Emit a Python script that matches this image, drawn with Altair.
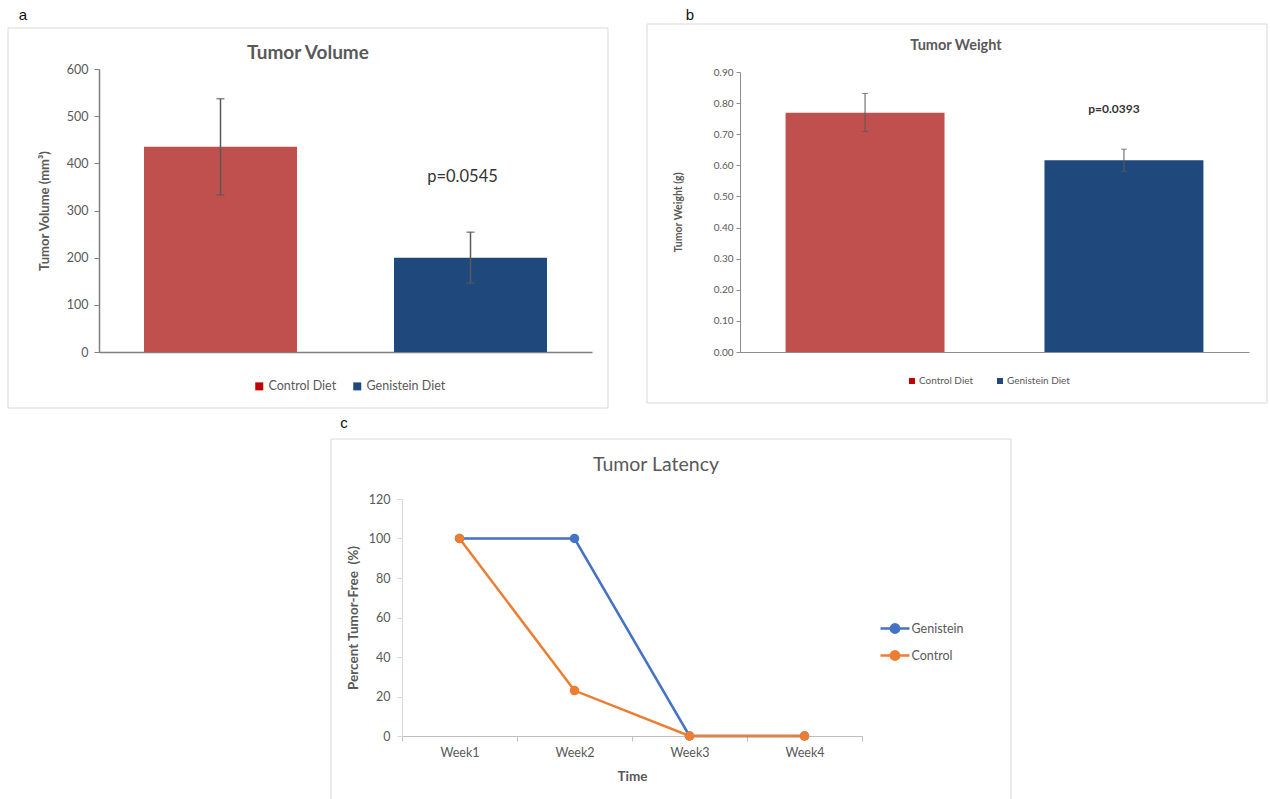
import altair as alt
import pandas as pd

# ---------------- data ----------------
diets = ["Control Diet", "Genistein Diet"]

volume_mean = [435, 200]
volume_low = [333, 146]
volume_high = [537, 254]
volume_ticks = [0, 100, 200, 300, 400, 500, 600]
volume_p = "p=0.0545"
volume_p_at = 370

weight_mean = [0.769, 0.616]
weight_low = [0.709, 0.581]
weight_high = [0.831, 0.652]
weight_ticks = [0.0, 0.1, 0.2, 0.3, 0.4, 0.5, 0.6, 0.7, 0.8, 0.9]
weight_p = "p=0.0393"
weight_p_at = 0.78

weeks = ["Week1", "Week2", "Week3", "Week4"]
groups = ["Genistein", "Control"]
genistein_free = [100, 100, 0, 0]
control_free = [100, 23, 0, 0]
latency_ticks = [0, 20, 40, 60, 80, 100, 120]

# ---------------- styling ----------------
bar_colors = ["#C0504D", "#1F497D"]
key_colors = ["#C00000", "#1F497D"]
line_colors = ["#4472C4", "#ED7D31"]

FONT = "Lato"
INK = "#595959"
FRAME = "#D9D9D9"

one = pd.DataFrame({"k": [0]})


def frame(x1, y1, x2, y2):
    return alt.Chart(one).mark_rect(filled=False, stroke=FRAME, strokeWidth=1).encode(
        x=alt.value(x1), x2=alt.value(x2), y=alt.value(y1), y2=alt.value(y2)
    )


def note(text, x, y, size, weight="normal", color=INK, font=FONT, baseline="middle"):
    return alt.Chart(one).mark_text(
        text=text, font=font, fontSize=size, fontWeight=weight, color=color,
        baseline=baseline, align="center",
    ).encode(x=alt.value(x), y=alt.value(y))


def bar_panel(mean, low, high, ticks, fmt, ytitle, title, p_text, p_at, s):
    df = pd.DataFrame({"diet": diets, "mean": mean, "low": low, "high": high})
    pdf = pd.DataFrame({"diet": [diets[1]], "y": [p_at], "label": [p_text]})

    xenc = alt.X(
        "diet:N", sort=diets, title=None,
        scale=alt.Scale(domain=diets, paddingInner=s["pi"], paddingOuter=s["po"]),
        axis=alt.Axis(labels=False, ticks=False, domainColor=s["axis"],
                      domainWidth=s["axis_w"], title=None),
    )
    yaxis = alt.Axis(
        values=ticks, format=fmt, grid=False,
        tickSize=s["tick"], tickColor=s["axis"], tickWidth=1,
        domainColor=s["axis"], domainWidth=s["axis_w"],
        labelFont=FONT, labelFontSize=s["lab"], labelColor=INK, labelPadding=s["lab_pad"],
        titleFont=FONT, titleFontSize=s["ytitle"], titleFontWeight="bold", titleColor=INK,
        titleAngle=270, titleBaseline="middle", titleX=s["ytitle_x"],
        titleY=(s["h"] + s["top"]) / 2,
    )
    yscale = alt.Scale(domain=[ticks[0], ticks[-1]], nice=False, zero=True,
                       range=[s["h"], s["top"]])

    def yenc(field):
        return alt.Y(f"{field}:Q", title=ytitle, scale=yscale, axis=yaxis)

    base = alt.Chart(df)
    bars = base.mark_bar().encode(
        x=xenc, y=yenc("mean"),
        color=alt.Color("diet:N", scale=alt.Scale(domain=diets, range=bar_colors), legend=None),
    )
    whisker = base.mark_rule(color=INK, strokeWidth=s["err_w"]).encode(
        x=xenc, y=yenc("low"), y2="high:Q"
    )
    cap_lo = base.mark_tick(color=INK, thickness=s["err_w"], size=s["cap"]).encode(x=xenc, y=yenc("low"))
    cap_hi = base.mark_tick(color=INK, thickness=s["err_w"], size=s["cap"]).encode(x=xenc, y=yenc("high"))
    key = base.mark_point(shape="square", filled=True, opacity=0).encode(
        x=xenc, y=yenc("mean"),
        fill=alt.Fill(
            "diet:N", scale=alt.Scale(domain=diets, range=key_colors),
            legend=alt.Legend(
                title=None, orient="none", direction="horizontal",
                legendX=s["leg_x"], legendY=s["leg_y"], padding=0,
                symbolType="square", symbolSize=s["sym"], symbolOpacity=1, symbolStrokeWidth=0,
                labelFont=FONT, labelFontSize=s["leg_font"], labelColor=INK,
                labelOffset=s["leg_off"], columnPadding=s["leg_gap"],
            ),
        ),
    )
    ptext = alt.Chart(pdf).mark_text(
        font=FONT, fontSize=s["p_size"], fontWeight=s["p_weight"], color="#333333",
        baseline="middle", dx=s["p_dx"],
    ).encode(x=xenc, y=yenc("y"), text="label:N")

    return alt.layer(
        frame(*s["frame"]),
        bars, whisker, cap_lo, cap_hi, key, ptext,
        note(title, s["title_xy"][0], s["title_xy"][1], s["title_size"], "bold"),
        note(s["tag"], s["tag_xy"][0], s["tag_xy"][1], 15, color="#111111",
             font="Liberation Sans", baseline="top"),
    ).properties(width=s["w"], height=s["h"]).resolve_scale(color="independent", fill="independent")


# both bar panels share one plot-area origin; the weight axis starts 3 px lower
volume = bar_panel(
    volume_mean, volume_low, volume_high, volume_ticks, "d",
    "Tumor Volume (mm³)", "Tumor Volume", volume_p, volume_p_at,
    dict(w=493, h=283, top=0, pi=0.388, po=0.18, axis="#7F7F7F", axis_w=1.5, tick=5,
         lab=12.5, lab_pad=6, ytitle=13, ytitle_x=-55, err_w=1.5, cap=8,
         leg_x=154, leg_y=311, sym=64, leg_font=12.5, leg_off=3, leg_gap=14,
         p_size=16.5, p_weight="normal", p_dx=-8,
         frame=(-91, -41, 509, 339), title_xy=(209, -16), title_size=19,
         tag="a", tag_xy=(-76, -61)),
)

weight = bar_panel(
    weight_mean, weight_low, weight_high, weight_ticks, ".2f",
    "Tumor Weight (g)", "Tumor Weight", weight_p, weight_p_at,
    dict(w=509, h=283, top=3, pi=0.386, po=0.176, axis="#8C8C8C", axis_w=1, tick=4,
         lab=10, lab_pad=3, ytitle=10.5, ytitle_x=-62, err_w=1, cap=6,
         leg_x=167, leg_y=307, sym=36, leg_font=10, leg_off=2, leg_gap=21,
         p_size=12, p_weight="bold", p_dx=-10,
         frame=(-93, -45, 527, 334), title_xy=(216, -23), title_size=14.5,
         tag="b", tag_xy=(-50, -61)),
)

# ---------------- tumor latency ----------------
latency = pd.DataFrame({
    "week": weeks * 2,
    "group": [groups[0]] * 4 + [groups[1]] * 4,
    "free": genistein_free + control_free,
})

lx = alt.X(
    "week:N", sort=weeks, title="Time",
    scale=alt.Scale(type="band", domain=weeks, paddingInner=0, paddingOuter=0),
    axis=alt.Axis(
        tickBand="extent", tickSize=5, tickColor="#BFBFBF", domainColor="#BFBFBF",
        labelAngle=0, labelFont=FONT, labelFontSize=12.5, labelColor=INK, labelPadding=5,
        titleFont=FONT, titleFontSize=13.5, titleFontWeight="bold", titleColor=INK,
        titleBaseline="middle", titleY=40,
    ),
)
ly = alt.Y(
    "free:Q", title="Percent Tumor-Free \u00a0(%)",
    scale=alt.Scale(domain=[0, 120], nice=False),
    axis=alt.Axis(
        values=latency_ticks, grid=False, tickSize=5, tickColor="#D9D9D9", domainColor="#D9D9D9",
        labelFont=FONT, labelFontSize=12.5, labelColor=INK, labelPadding=7,
        titleFont=FONT, titleFontSize=13.5, titleFontWeight="bold", titleColor=INK,
        titleAngle=270, titleBaseline="middle", titleX=-49, titleY=118.5,
    ),
)
lcolor = alt.Color(
    "group:N", sort=groups,
    scale=alt.Scale(domain=groups, range=line_colors),
    legend=alt.Legend(
        title=None, orient="none", legendX=481.5, legendY=118, padding=0,
        symbolType="M-1.45,0L1.45,0M-0.42,0A0.42,0.42,0,1,1,0.42,0A0.42,0.42,0,1,1,-0.42,0Z",
        symbolSize=400, symbolStrokeWidth=2.5,
        labelFont=FONT, labelFontSize=12.5, labelColor=INK, labelOffset=5, rowPadding=6,
    ),
)
lbase = alt.Chart(latency)
lines = lbase.mark_line(strokeWidth=2.5).encode(x=lx, y=ly, color=lcolor, order=alt.Order("week:N"))
dots = lbase.mark_point(filled=True, size=90, opacity=1).encode(x=lx, y=ly, color=lcolor)

latency_chart = alt.layer(
    frame(-71, -60, 609, 306),
    lines, dots,
    note("Tumor Latency", 254, -34, 19.5),
    note("c", -58, -83, 15, color="#111111", font="Liberation Sans", baseline="top"),
).properties(width=460, height=237)

# tiny placeholder that pushes the latency panel to the right in its row
spacer = alt.Chart(one).mark_point(opacity=0, size=1).encode(
    x=alt.value(0.5), y=alt.value(0.5)
).properties(width=1, height=1)

top_row = alt.hconcat(volume, weight, spacing=37).resolve_scale(
    color="independent", fill="independent"
).resolve_legend(color="independent", fill="independent")
bottom_row = alt.hconcat(spacer, latency_chart, spacing=230).resolve_scale(
    color="independent"
).resolve_legend(color="independent")

chart = alt.vconcat(top_row, bottom_row, spacing=7).resolve_scale(
    color="independent", fill="independent"
).resolve_legend(color="independent", fill="independent").properties(
    padding={"left": 7, "top": 8, "right": 0, "bottom": 0},
    background="white",
).configure(font=FONT).configure_view(stroke="transparent", strokeWidth=0)

chart.save("out.html", embed_options={"renderer": "svg", "actions": False})
